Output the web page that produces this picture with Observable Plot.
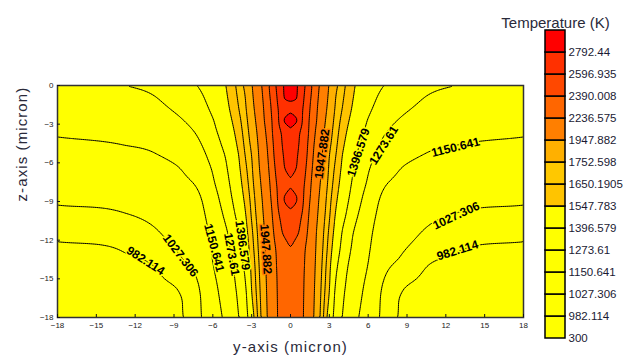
<!DOCTYPE html>
<html><head><meta charset="utf-8">
<script src="https://cdn.jsdelivr.net/npm/d3@7"></script>
<script src="https://cdn.jsdelivr.net/npm/@observablehq/plot@0.6"></script>
<style>
body{margin:0;background:#fff;}
#wrap{position:relative;width:634px;height:361px;overflow:hidden;}
#wrap svg{position:absolute;top:0;}
</style></head><body><div id="wrap"></div>
<script>
// grid nodes (micron)
const yNodes = [-18,-13,-10.5,-8.5,-7,-6,-5,-4,-3.5,-3,-2.5,-2,-1.5,-1,-0.5,0,0.5,1,1.5,2,2.5,3,3.5,4,5,6,7,8.5,10.5,13,18];
const zNodes = [0,-1,-1.75,-2.7,-3.5,-4.5,-5.5,-6.5,-7.6,-8.8,-10,-11.5,-12.6,-14,-16,-18];
const temperature = [
[1240,1271,1300,1366,1407,1477,1547,1689,1782,1932,2147,2302,2436,2649,2802,2850,2802,2649,2436,2302,2147,1932,1782,1689,1547,1477,1407,1366,1300,1271,1240],
[1218,1245,1268,1328,1374,1446,1530,1666,1749,1901,2103,2283,2411,2612,2790,2805,2790,2612,2411,2283,2103,1901,1749,1666,1530,1446,1374,1328,1268,1245,1218],
[1202,1225,1247,1300,1352,1423,1515,1650,1735,1878,2070,2266,2390,2588,2681,2770,2681,2588,2390,2266,2070,1878,1735,1650,1515,1423,1352,1300,1247,1225,1202],
[1180,1200,1220,1266,1323,1391,1490,1624,1713,1843,2027,2244,2370,2556,2792,2830,2792,2556,2370,2244,2027,1843,1713,1624,1490,1391,1323,1266,1220,1200,1180],
[1162,1179,1198,1242,1298,1371,1466,1603,1696,1817,1991,2214,2358,2530,2666,2775,2666,2530,2358,2214,1991,1817,1696,1603,1466,1371,1298,1242,1198,1179,1162],
[1139,1153,1170,1211,1268,1342,1436,1576,1674,1786,1956,2178,2336,2497,2634,2720,2634,2497,2336,2178,1956,1786,1674,1576,1436,1342,1268,1211,1170,1153,1139],
[1117,1129,1144,1180,1237,1312,1403,1547,1650,1752,1929,2147,2320,2469,2608,2670,2608,2469,2320,2147,1929,1752,1650,1547,1403,1312,1237,1180,1144,1129,1117],
[1092,1105,1122,1150,1207,1283,1381,1528,1625,1734,1904,2113,2299,2441,2582,2630,2582,2441,2299,2113,1904,1734,1625,1528,1381,1283,1207,1150,1122,1105,1092],
[1064,1079,1098,1130,1173,1259,1359,1505,1601,1713,1869,2070,2272,2408,2496,2585,2496,2408,2272,2070,1869,1713,1601,1505,1359,1259,1173,1130,1098,1079,1064],
[1037,1050,1072,1108,1143,1227,1332,1476,1570,1686,1834,2026,2242,2390,2597,2640,2597,2390,2242,2026,1834,1686,1570,1476,1332,1227,1143,1108,1072,1050,1037],
[1014,1024,1046,1086,1123,1203,1299,1443,1538,1663,1805,1990,2206,2361,2466,2560,2466,2361,2206,1990,1805,1663,1538,1443,1299,1203,1123,1086,1046,1024,1014],
[993,1001,1019,1059,1098,1178,1257,1389,1501,1628,1770,1947,2169,2313,2404,2450,2404,2313,2169,1947,1770,1628,1501,1389,1257,1178,1098,1059,1019,1001,993],
[974,985,1003,1038,1080,1165,1242,1365,1472,1606,1752,1929,2141,2269,2327,2385,2327,2269,2141,1929,1752,1606,1472,1365,1242,1165,1080,1038,1003,985,974],
[955,973,983,1015,1057,1147,1223,1330,1426,1576,1727,1910,2112,2253,2297,2340,2297,2253,2112,1910,1727,1576,1426,1330,1223,1147,1057,1015,983,973,955],
[928,959,973,984,1027,1114,1201,1296,1373,1547,1698,1886,2086,2244,2277,2310,2277,2244,2086,1886,1698,1547,1373,1296,1201,1114,1027,984,973,959,928],
[905,944,963,978,1020,1090,1175,1273,1345,1487,1667,1865,2067,2239,2267,2295,2267,2239,2067,1865,1667,1487,1345,1273,1175,1090,1020,978,963,944,905]
];
// contour levels and colour bands
const levels = [300, 982.114, 1027.306, 1150.641, 1273.61, 1396.579, 1547.783, 1650.1905, 1752.598, 1947.882, 2236.575, 2390.008, 2596.935, 2792.44];
const levelLabels = ["300","982.114","1027.306","1150.641","1273.61","1396.579","1547.783","1650.1905","1752.598","1947.882","2236.575","2390.008","2596.935","2792.44"];
const bandColors = ["#ffff00","#ffff00","#ffff00","#ffff00","#ffff00","#ffff00","#ffff00","#ffc400","#ffc800","#ffb000","#ff7f00","#ff6600","#ff4800","#ff3000","#ff0000"];
const xTicks = [-18,-15,-12,-9,-6,-3,0,3,6,9,12,15,18];
const zTicks = [0,-3,-6,-9,-12,-15,-18];
const xTitle = "y-axis (micron)";
const yTitle = "z-axis (micron)";
const legendTitle = "Temperature (K)";
// contour labels
const labelText  = ["982.114","1027.306","1150.641","1273.61","1396.579","1947.882","1947.882","1396.579","1273.61","1150.641","1027.306","982.114"];
const labelLevel = [982.114,1027.306,1150.641,1273.61,1396.579,1947.882,1947.882,1396.579,1273.61,1150.641,1027.306,982.114];
const labelY     = [-11.2,-8.5,-5.9,-4.55,-3.7,-1.9,2.45,5.25,7.2,12.75,12.8,12.9];
const labelZ     = [-13.6,-13.2,-12.6,-13.1,-12.4,-12.7,-5.3,-5.2,-4.65,-4.8,-10.1,-12.8];
const labelAngle = [33,53,75,80,82,86,-82,-72,-58,-14,-25,-17];

const labels = labelText.map((t, i) => ({t, v: labelLevel[i], y: labelY[i], z: labelZ[i], a: labelAngle[i]}));

// monotone piecewise-cubic sampling of the measured grid (centred slopes, Hyman limiter)
function cubic(xs, vs, x) {
  const n = xs.length;
  let i = d3.bisectRight(xs, x) - 1;
  i = Math.max(0, Math.min(n - 2, i));
  const h = k => xs[k + 1] - xs[k];
  const s = k => (vs[k + 1] - vs[k]) / h(k);
  const deriv = k => {
    if (k === 0) return s(0);
    if (k === n - 1) return s(n - 2);
    const s0 = s(k - 1), s1 = s(k), h0 = h(k - 1), h1 = h(k);
    if (s0 * s1 <= 0) return 0;
    const p = (s0 * h1 + s1 * h0) / (h0 + h1);
    return Math.sign(p) * Math.min(Math.abs(p), 3 * Math.min(Math.abs(s0), Math.abs(s1)));
  };
  const hi = h(i), t = (x - xs[i]) / hi, t2 = t * t, t3 = t2 * t;
  return (2*t3 - 3*t2 + 1) * vs[i] + (t3 - 2*t2 + t) * hi * deriv(i)
       + (-2*t3 + 3*t2) * vs[i + 1] + (t3 - t2) * hi * deriv(i + 1);
}
const zAsc = zNodes.slice().reverse();
const colsAsc = yNodes.map((_, j) => temperature.map(r => r[j]).reverse());
const field = (y, z) => cubic(yNodes, colsAsc.map(c => cubic(zAsc, c, z)), y);

const font = "'Liberation Sans', Arial, sans-serif";
const color = {type: "threshold", domain: levels, range: bandColors};

const main = Plot.plot({
  width: 634, height: 361,
  marginLeft: 57, marginRight: 111, marginTop: 85, marginBottom: 44,
  x: {domain: [-18, 18]},
  y: {domain: [-18, 0]},
  color,
  style: {fontFamily: font, background: "white", color: "#222"},
  marks: [
    Plot.contour({fill: field, x1: -18, y1: -18, x2: 18, y2: 0, thresholds: levels, stroke: "black", strokeWidth: 1}),
    Plot.text(labels, {x: "y", y: "z", text: "t", rotate: "a", fontSize: 12, fontWeight: "bold", fill: "black", stroke: "v", strokeWidth: 3, paintOrder: "stroke"}),
    Plot.frame({stroke: "#333", strokeWidth: 1.5}),
    Plot.ruleX(xTicks, {x: d => d, y1: -18, y2: -18, insetBottom: 3, stroke: "#111"}),
    Plot.ruleY(zTicks, {y: d => d, x1: -18, x2: -18, insetLeft: 3, stroke: "#111"}),
    Plot.axisX({ticks: xTicks, tickSize: 0, tickPadding: 5, fontSize: 8, label: null}),
    Plot.axisY({ticks: zTicks, tickSize: 0, tickPadding: 4, fontSize: 8, label: null}),
    Plot.text([xTitle], {frameAnchor: "bottom", dy: 34, fontSize: 15, fill: "#2a2a3a"}),
    Plot.text([yTitle], {frameAnchor: "left", dx: -35, rotate: -90, fontSize: 15, fill: "#2a2a3a"})
  ]
});

const legend = Plot.plot({
  width: 154, height: 361,
  marginLeft: 65, marginRight: 69, marginTop: 27, marginBottom: 21,
  y: {type: "band", domain: levels.slice().reverse(), axis: null, padding: 0},
  color,
  style: {fontFamily: font, background: "transparent", overflow: "visible"},
  marks: [
    Plot.cell(levels, {y: d => d, fill: d => d, stroke: "black", strokeWidth: 1.5}),
    Plot.text(levels, {y: d => d, text: (d, i) => levelLabels[i], frameAnchor: "right", textAnchor: "start", dx: 3, dy: 11, fontSize: 11.5, fill: "#1a1a33"}),
    Plot.text([legendTitle], {frameAnchor: "top", dy: -10, fontSize: 15, fill: "#2a2a3a"})
  ]
});
// slightly wider tracking for the axis titles, as in the reference
main.querySelectorAll("text").forEach(t => {
  if (t.textContent === xTitle || t.textContent === yTitle) t.style.letterSpacing = "1.1px";
});
legend.style.left = "480px";
main.style.left = "0px";
const wrap = document.getElementById("wrap");
wrap.appendChild(main);
wrap.appendChild(legend);
</script></body></html>
